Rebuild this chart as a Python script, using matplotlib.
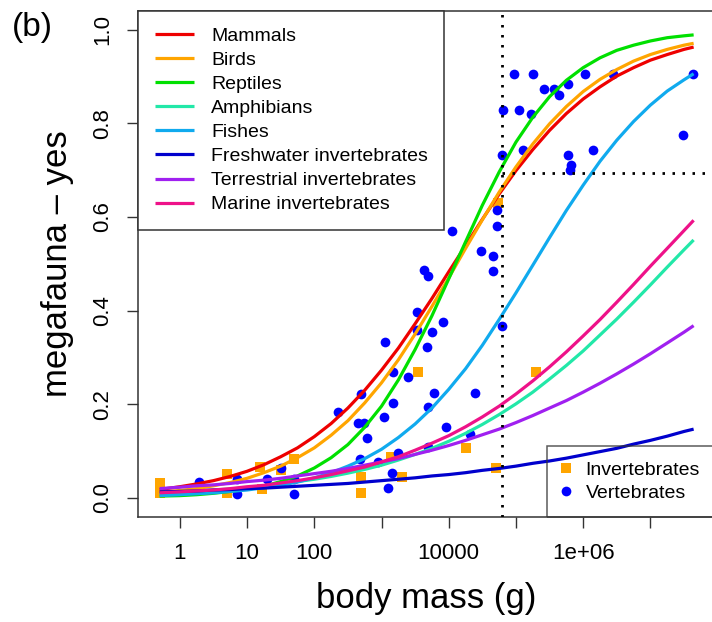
import matplotlib
matplotlib.use("Agg")
import matplotlib.pyplot as plt
import numpy as np
from matplotlib.lines import Line2D

plt.rcParams['font.family'] = ['Liberation Sans', 'DejaVu Sans']

curve_mass = [0.5, 1, 1.78, 3.16, 5.62, 10, 17.8, 31.6, 56.2, 100, 178, 316,
              562, 1000, 1780, 3160, 5620, 1e4, 1.78e4, 3.16e4, 5.62e4, 1e5,
              1.78e5, 3.16e5, 5.62e5, 1e6, 1.78e6, 3.16e6, 5.62e6, 1e7,
              1.78e7, 3.16e7, 4.4e7]

# fitted probability of "megafauna - yes" for each group
mammals = [0.018, 0.024, 0.030, 0.037, 0.046, 0.057, 0.071, 0.088, 0.107,
           0.131, 0.159, 0.192, 0.230, 0.273, 0.320, 0.372, 0.426, 0.483,
           0.539, 0.595, 0.649, 0.699, 0.744, 0.785, 0.821, 0.852, 0.878,
           0.901, 0.919, 0.935, 0.947, 0.958, 0.963]
birds = [0.012, 0.016, 0.020, 0.026, 0.033, 0.042, 0.054, 0.068, 0.086,
         0.107, 0.134, 0.165, 0.203, 0.246, 0.295, 0.350, 0.409, 0.470,
         0.533, 0.594, 0.653, 0.707, 0.756, 0.799, 0.836, 0.868, 0.894,
         0.915, 0.933, 0.947, 0.958, 0.967, 0.971]
reptiles = [0.004, 0.005, 0.007, 0.010, 0.014, 0.019, 0.025, 0.035, 0.047,
            0.064, 0.086, 0.114, 0.151, 0.196, 0.252, 0.317, 0.389, 0.468,
            0.547, 0.625, 0.696, 0.760, 0.813, 0.857, 0.892, 0.919, 0.940,
            0.956, 0.967, 0.976, 0.983, 0.987, 0.989]
amphibians = [0.010, 0.012, 0.014, 0.017, 0.019, 0.022, 0.026, 0.030, 0.035,
              0.040, 0.046, 0.053, 0.061, 0.070, 0.081, 0.093, 0.106, 0.121,
              0.138, 0.157, 0.178, 0.201, 0.226, 0.254, 0.283, 0.314, 0.348,
              0.382, 0.418, 0.455, 0.493, 0.530, 0.551]
fishes = [0.005, 0.007, 0.009, 0.011, 0.014, 0.017, 0.022, 0.027, 0.034,
          0.043, 0.054, 0.068, 0.084, 0.104, 0.129, 0.158, 0.192, 0.232,
          0.276, 0.326, 0.381, 0.438, 0.497, 0.556, 0.614, 0.668, 0.719,
          0.764, 0.804, 0.839, 0.869, 0.893, 0.906]
freshwater = [0.013, 0.014, 0.015, 0.017, 0.018, 0.020, 0.021, 0.023, 0.025,
              0.027, 0.029, 0.031, 0.034, 0.037, 0.040, 0.043, 0.047, 0.050,
              0.054, 0.059, 0.063, 0.068, 0.074, 0.079, 0.085, 0.092, 0.099,
              0.106, 0.115, 0.123, 0.132, 0.142, 0.147]
terrestrial = [0.020, 0.023, 0.026, 0.028, 0.031, 0.035, 0.038, 0.042, 0.047,
               0.052, 0.057, 0.063, 0.070, 0.077, 0.084, 0.093, 0.102, 0.112,
               0.123, 0.135, 0.147, 0.161, 0.176, 0.192, 0.208, 0.226, 0.245,
               0.265, 0.286, 0.308, 0.331, 0.354, 0.368]
marine = [0.011, 0.013, 0.015, 0.017, 0.020, 0.024, 0.027, 0.032, 0.037,
          0.043, 0.050, 0.058, 0.066, 0.077, 0.088, 0.102, 0.117, 0.133,
          0.152, 0.173, 0.196, 0.222, 0.250, 0.280, 0.312, 0.346, 0.381,
          0.418, 0.456, 0.495, 0.533, 0.571, 0.593]

groups = ['Mammals', 'Birds', 'Reptiles', 'Amphibians', 'Fishes',
          'Freshwater invertebrates', 'Terrestrial invertebrates',
          'Marine invertebrates']
group_curves = [mammals, birds, reptiles, amphibians, fishes,
                freshwater, terrestrial, marine]
group_colors = ['#EE0000', '#FFA500', '#00E000', '#22E8A8', '#10AAEE',
                '#0000CD', '#A020F0', '#EE1289']

# observed species
inv_mass = [0.5, 0.5, 5, 5, 15.5, 16.5, 50, 32, 500, 500, 1400, 2000, 3550,
            18000, 50000, 2.0e5, 55000]
inv_p = [0.032, 0.010, 0.052, 0.010, 0.066, 0.020, 0.084, 0.060, 0.045,
         0.011, 0.088, 0.044, 0.270, 0.107, 0.065, 0.270, 0.630]

vert_mass = [1.9, 7, 7, 19.5, 32, 50, 50, 225, 500, 440, 550, 600, 1120,
             1490, 1490, 1100, 2500, 3330, 4270, 4850, 3330, 4700, 4950, 480,
             890, 1420, 1260, 1780, 6060, 9100, 25000, 4950, 20700, 11300,
             5600, 8300, 29800, 46000, 45000, 51600, 51600, 63000, 64600,
             95000, 1.77e5, 1.12e5, 1.66e5, 2.57e5, 3.7e5, 4.3e5, 5.9e5,
             1.07e6, 2.8e6, 4.35e7, 3.1e7, 63000, 1.26e5, 5.9e5, 6.5e5,
             6.3e5, 1.38e6]
vert_p = [0.034, 0.041, 0.008, 0.041, 0.063, 0.041, 0.009, 0.183, 0.223,
          0.160, 0.160, 0.128, 0.334, 0.268, 0.203, 0.172, 0.259, 0.398,
          0.486, 0.473, 0.359, 0.323, 0.195, 0.084, 0.077, 0.054, 0.021,
          0.097, 0.225, 0.151, 0.225, 0.109, 0.136, 0.570, 0.354, 0.376,
          0.528, 0.516, 0.485, 0.614, 0.581, 0.367, 0.829, 0.906, 0.906,
          0.829, 0.819, 0.873, 0.874, 0.861, 0.884, 0.906, 0.905, 0.906,
          0.775, 0.732, 0.744, 0.732, 0.711, 0.700, 0.744]

# threshold marked with dotted lines
threshold_mass = 6.1e4
threshold_p = 0.693

xticks = [1, 10, 100, 1000, 1e4, 1e5, 1e6, 1e7]
xtick_labels = ['1', '10', '100', '', '10000', '', '1e+06', '']
yticks = [0.0, 0.2, 0.4, 0.6, 0.8, 1.0]
ytick_labels = ['0.0', '0.2', '0.4', '0.6', '0.8', '1.0']

fig = plt.figure(figsize=(7.12, 6.22), dpi=100)
ax = fig.add_axes([0.1942, 0.1693, 0.8100, 0.8130])

# points first, curves on top
ax.plot(inv_mass, inv_p, 's', color='#FFA500', ms=6.5, mew=0, zorder=2)
ax.plot(vert_mass, vert_p, 'o', color='#0000FF', ms=7, mew=0, zorder=2)

lines = []
for name, vals, col in zip(groups, group_curves, group_colors):
    ln, = ax.plot(curve_mass, vals, '-', color=col, lw=2.3, label=name,
                  solid_capstyle='butt', solid_joinstyle='round', zorder=3)
    lines.append(ln)

ax.set_xscale('log')
lo = np.log10(min(curve_mass))
hi = np.log10(max(curve_mass))
pad = 0.04 * (hi - lo)
ax.set_xlim(10 ** (lo - pad), 10 ** (hi + pad))
ax.set_ylim(-0.04, 1.04)

ax.axvline(threshold_mass, color='black', lw=2, ls=(0, (0.9, 2.7)), zorder=4)
ax.hlines(threshold_p, threshold_mass, 10 ** (hi + pad), color='black', lw=2,
          ls=(0, (0.9, 2.7)), zorder=4)

ax.set_xticks(xticks)
ax.set_xticklabels(xtick_labels)
ax.xaxis.set_minor_locator(matplotlib.ticker.NullLocator())
ax.set_yticks(yticks)
ax.set_yticklabels(ytick_labels, va='center')
ax.tick_params(axis='both', direction='out', length=8, width=1,
               color='#333333', labelsize=16)
ax.tick_params(axis='x', pad=11)
ax.tick_params(axis='y', labelrotation=90, pad=10)
for sp in ax.spines.values():
    sp.set_linewidth(1.1)
    sp.set_color('#333333')

ax.set_xlabel('body mass (g)', fontsize=25, labelpad=13)
ax.set_ylabel('megafauna – yes', fontsize=25, labelpad=13)
fig.text(12 / 712, 1 - 12 / 622, '(b)', fontsize=24, ha='left', va='top')

leg1 = ax.legend(handles=lines, loc='upper left', bbox_to_anchor=(0, 1),
                 borderaxespad=0, fontsize=14, handlelength=2.0,
                 handletextpad=0.89, labelspacing=0.33, borderpad=0.85,
                 fancybox=False, edgecolor='#333333', framealpha=1)
leg1.get_frame().set_linewidth(1.1)
ax.add_artist(leg1)

pt_handles = [Line2D([], [], ls='none', marker='s', color='#FFA500', ms=6.5,
                     mew=0, label='Invertebrates'),
              Line2D([], [], ls='none', marker='o', color='#0000FF', ms=7,
                     mew=0, label='Vertebrates')]
leg2 = ax.legend(handles=pt_handles, loc='lower right', bbox_to_anchor=(1, 0),
                 borderaxespad=0, fontsize=14, handlelength=0.44,
                 handletextpad=0.76, labelspacing=0.25, borderpad=0.78,
                 fancybox=False, edgecolor='#333333', facecolor='none')
leg2.get_frame().set_linewidth(1.1)

fig.savefig('out.png', dpi=100)
